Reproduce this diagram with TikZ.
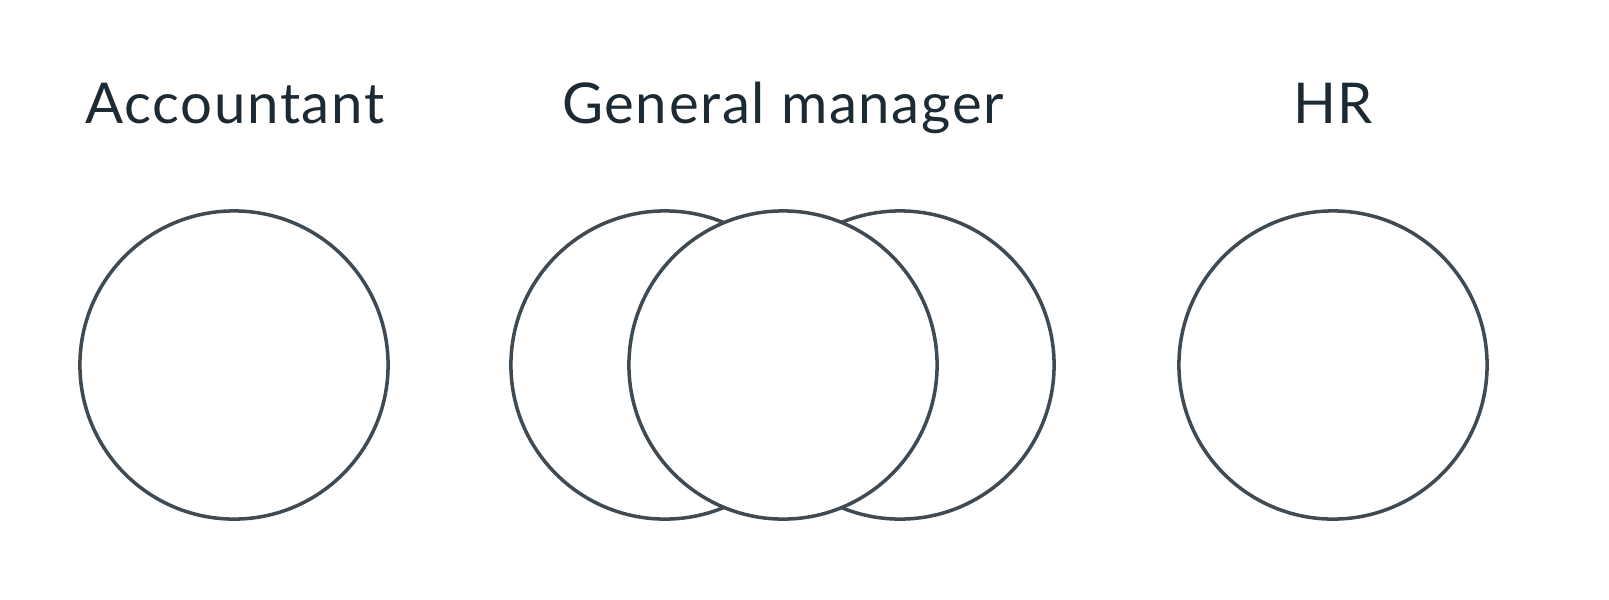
\documentclass[tikz,border=0pt]{standalone}
\usepackage{fontspec}
\setmainfont{Lato}[LetterSpace=3]
\definecolor{ringgrey}{HTML}{3F4A52}
\definecolor{labelink}{HTML}{1C2B33}

\begin{document}
\begin{tikzpicture}[x=0.01cm, y=-0.01cm,
		role/.style={circle, draw=ringgrey, line width=1pt, fill=white, minimum size=3.08cm, inner sep=0pt},
		title/.style={anchor=base, text=labelink, font=\fontsize{16}{19}\selectfont}]
	\useasboundingbox (0,0) rectangle (1609,599);
	% headings
	\node[title] (tacct) at (235,123) {Accountant};
	\node[title] (tgm)   at (783,123) {General manager};
	\node[title] (thr)   at (1333,123) {HR};
	% single roles
	\node[role] (acct) at (234,365) {};
	\node[role] (hr)   at (1333,365) {};
	% general manager: two rings behind, one in front
	\node[role] (gmleft)  at (665,365) {};
	\node[role] (gmright) at (900,365) {};
	\node[role] (gm)      at (783,365) {};
\end{tikzpicture}
\end{document}
